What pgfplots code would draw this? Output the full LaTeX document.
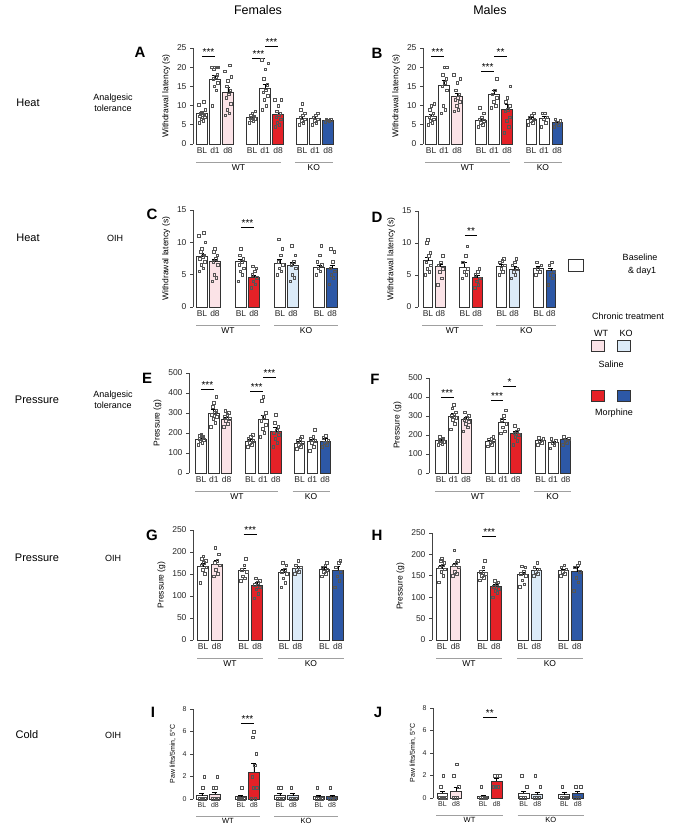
\documentclass[border=0pt]{standalone}
\usepackage{fontspec}
\setmainfont{Liberation Sans}
\usepackage{pgfplots}
\pgfplotsset{compat=1.18}
\definecolor{edge}{HTML}{333333}
\definecolor{pinkf}{HTML}{FBE3E7}
\definecolor{redf}{HTML}{E42127}
\definecolor{lbluef}{HTML}{DCEBF8}
\definecolor{bluef}{HTML}{2D58A6}
\definecolor{dotc}{HTML}{555555}
\definecolor{grpline}{HTML}{A0A0A0}
\definecolor{axc}{HTML}{444444}
\pgfplotsset{
  panel/.style={
    scale only axis, anchor=south west, clip=false,
    axis lines=left, axis line style={-, draw=axc, line width=0.9pt},
    x axis line style={draw=none},
    xtick style={draw=none},
    ytick style={draw=axc, line width=0.8pt},
    ytick align=outside, major tick length=3pt,
    tick label style={font=\fontsize{8.5}{9}\selectfont, text=black!85},
    xticklabel style={yshift=1.5pt},
    label style={font=\fontsize{8.5}{9}\selectfont},
    ymin=0,
    /pgf/number format/assume math mode=true,
  },
  small/.style={
    tick label style={font=\fontsize{7}{8}\selectfont, text=black!85},
    label style={font=\fontsize{7}{8}\selectfont},
  },
  bb/.style={ybar, bar width=0.8, bar shift=0pt, draw=edge, line width=0.9pt, fill=#1,
    error bars/y dir=plus, error bars/y explicit,
    error bars/error bar style={line width=0.8pt, black},
    error bars/error mark options={rotate=90, mark size=2.5pt, line width=0.8pt, black}},
  dots/.style={only marks, mark=square, mark size=1.3pt, mark options={draw=dotc, fill=none, line width=0.45pt}},
}
\newcommand{\bbar}[4]{\addplot[bb=#1] coordinates {(#2,#3) +- (0,#4)};}
\newcommand{\sig}[4]{\draw[line width=0.8pt, black] (axis cs:#1,#3) -- (axis cs:#2,#3) node[midway, above, inner sep=0.5pt, font=\fontsize{10}{9}\selectfont] {#4};}
\newcommand{\grp}[3]{\draw[grpline, line width=0.9pt] ([yshift=-18pt]axis cs:#1,0) -- ([yshift=-18pt]axis cs:#2,0) node[midway, below=1pt, inner sep=1pt, text=black, font=\fontsize{8.5}{9}\selectfont] {#3};}
\newcommand{\grps}[3]{\draw[grpline, line width=0.9pt] ([yshift=-17pt]axis cs:#1,0) -- ([yshift=-17pt]axis cs:#2,0) node[midway, below=1pt, inner sep=1pt, text=black, font=\fontsize{7.5}{8}\selectfont] {#3};}
\begin{document}
\begin{tikzpicture}
\path[use as bounding box] (0pt,0pt) rectangle (685pt,829pt);
% titles
\node[font=\fontsize{12.5}{14}\selectfont] at (258pt,819pt) {Females};
\node[font=\fontsize{12.5}{14}\selectfont] at (490pt,819pt) {Males};
% row labels
\begin{scope}[every node/.style={font=\fontsize{11}{13}\selectfont}]
\node at (28pt,726pt) {Heat};
\node at (28pt,591pt) {Heat};
\node at (37pt,429pt) {Pressure};
\node at (37pt,271pt) {Pressure};
\node at (27pt,94pt) {Cold};
\end{scope}
\begin{scope}[every node/.style={font=\fontsize{9}{11}\selectfont, align=center}]
\node at (113pt,726pt) {Analgesic\\tolerance};
\node at (115pt,591pt) {OIH};
\node at (113pt,429pt) {Analgesic\\tolerance};
\node at (113pt,271pt) {OIH};
\node at (113pt,94pt) {OIH};
\end{scope}
% panel letters
\begin{scope}[every node/.style={font=\fontsize{15}{17}\selectfont\bfseries}]
\node at (140pt,777pt) {A};
\node at (377pt,776pt) {B};
\node at (152pt,615pt) {C};
\node at (377pt,612pt) {D};
\node at (147pt,451pt) {E};
\node at (375pt,450pt) {F};
\node at (152pt,294pt) {G};
\node at (377pt,294pt) {H};
\node at (153pt,117pt) {I};
\node at (378pt,117pt) {J};
\end{scope}
% legend
\begin{scope}[every node/.style={font=\fontsize{9}{11}\selectfont}]
\draw[edge, line width=1pt] (568pt,557pt) rectangle (583pt,569pt);
\node at (640pt,572pt) {Baseline};
\node at (642pt,558pt) {\& day1};
\node at (628pt,513pt) {Chronic treatment};
\node at (601pt,496pt) {WT};
\node at (626pt,496pt) {KO};
\draw[edge, line width=1pt, fill=pinkf] (591pt,477pt) rectangle (604pt,488pt);
\draw[edge, line width=1pt, fill=lbluef] (617pt,477pt) rectangle (630pt,488pt);
\node at (611pt,465pt) {Saline};
\draw[edge, line width=1pt, fill=redf] (591pt,427pt) rectangle (604pt,438pt);
\draw[edge, line width=1pt, fill=bluef] (617pt,427pt) rectangle (630pt,438pt);
\node at (614pt,416pt) {Morphine};
\end{scope}

% ---------------- A ----------------
\begin{axis}[panel, at={(193pt,685pt)}, width=142.9pt, height=96pt,
  xmin=-0.69, xmax=10.3, ymax=25, ytick={0,5,...,25},
  xtick={0,1,2,3.85,4.85,5.85,7.7,8.7,9.7}, xticklabels={BL,d1,d8,BL,d1,d8,BL,d1,d8},
  ylabel={Withdrawal latency (s)}]
\bbar{white}{0}{7.9}{0.4}
\bbar{white}{1}{16.9}{0.9}
\bbar{pinkf}{2}{13.5}{1.3}
\bbar{white}{3.85}{6.9}{0.3}
\bbar{white}{4.85}{14.5}{1.1}
\bbar{redf}{5.85}{7.7}{0.6}
\bbar{white}{7.7}{6.6}{0.5}
\bbar{white}{8.7}{6.7}{0.4}
\bbar{bluef}{9.7}{6.1}{0.2}
\addplot[dots] coordinates {(-0.22,5.5)(0.1,6)(-0.05,6.5)(0.22,7)(-0.15,7.2)(0.05,7.5)(0.18,7.8)(-0.1,8)(0,8.3)(0.25,9)(-0.25,10.2)(0.13,11)
(0.78,10)(1.1,14)(0.95,15)(1.22,16)(0.85,17)(1.05,17.5)(1.18,18)(0.9,19.5)(1.0,20)(1.25,20)(0.75,20)(1.13,20)
(1.78,7.5)(2.1,8)(1.95,9)(2.22,10.5)(1.85,12)(2.05,13)(2.18,14)(1.9,15)(2,16.5)(2.25,17.5)(1.75,19)(2.13,20.5)
(3.63,5.5)(3.95,6)(3.8,6.3)(4.07,6.6)(3.7,6.8)(3.9,7)(4.03,7.2)(3.75,7.5)(3.85,8)(4.1,8.5)
(4.63,9)(4.95,10)(4.8,11.5)(5.07,12.5)(4.7,13.5)(4.9,14)(5.03,15.5)(4.75,17)(4.85,19.5)(5.1,21)(4.6,22)
(5.63,4.5)(5.95,5)(5.8,5.5)(6.07,6.5)(5.7,7)(5.9,7.5)(6.03,8)(5.75,8.5)(5.85,10)(6.1,11.5)(5.6,11.5)
(7.48,5)(7.8,5.5)(7.65,6)(7.92,6.5)(7.55,7)(7.75,7.5)(7.88,8)(7.6,9)(7.7,10.5)
(8.48,5)(8.8,5.5)(8.65,6)(8.92,6.5)(8.55,7)(8.75,7.5)(8.88,8)
(9.48,5.8)(9.8,6)(9.65,6.2)(9.92,6.3)(9.55,6.5)};
\sig{0}{1}{22.9}{***}
\sig{3.85}{4.85}{22.3}{***}
\sig{4.85}{5.85}{25.5}{***}
\grp{-0.45}{6.05}{WT}
\grp{7.15}{10.05}{KO}
\end{axis}

% ---------------- B ----------------
\begin{axis}[panel, at={(423pt,685pt)}, width=142pt, height=96pt,
  xmin=-0.62, xmax=10.3, ymax=25, ytick={0,5,...,25},
  xtick={0,1,2,3.85,4.85,5.85,7.7,8.7,9.7}, xticklabels={BL,d1,d8,BL,d1,d8,BL,d1,d8},
  ylabel={Withdrawal latency (s)}]
\bbar{white}{0}{7.3}{0.5}
\bbar{white}{1}{15.3}{1.2}
\bbar{pinkf}{2}{12.3}{1.0}
\bbar{white}{3.85}{6.2}{0.4}
\bbar{white}{4.85}{13.0}{0.9}
\bbar{redf}{5.85}{9.1}{1.2}
\bbar{white}{7.7}{6.5}{0.4}
\bbar{white}{8.7}{6.7}{0.6}
\bbar{bluef}{9.7}{5.5}{0.4}
\addplot[dots] coordinates {(-0.22,5)(0.1,5.5)(-0.05,6)(0.22,6.5)(-0.15,7)(0.05,7.5)(0.18,8)(-0.1,9)(0,10)(0.25,10.5)
(0.78,8)(1.1,9)(0.95,10)(1.22,14)(0.85,15)(1.05,16)(1.18,17)(0.9,18)(1.0,20)(1.2,20)
(1.78,8.5)(2.1,9)(1.95,10)(2.22,11)(1.85,11.5)(2.05,12)(2.18,13)(1.9,14)(2,16)(2.25,17)(1.75,18)
(3.63,4.5)(3.95,5)(3.8,5.5)(4.07,6)(3.7,6.5)(3.9,7)(4.03,8)(3.75,9.5)
(4.63,9.5)(4.95,10)(4.8,11)(5.07,12)(4.7,13)(4.9,14)(5.03,17)
(5.63,3)(5.95,4.5)(5.8,6)(6.07,7)(5.7,8.5)(5.9,9)(6.03,10)(5.75,11)(5.85,12)(6.1,15)
(7.48,5)(7.8,5.5)(7.65,6)(7.92,6.5)(7.55,7)(7.75,7.5)(7.88,8)
(8.48,4.5)(8.8,5.5)(8.65,6.5)(8.92,7)(8.55,8)(8.75,8)
(9.48,4.5)(9.8,5)(9.65,5.5)(9.92,6)(9.55,6.5)};
\sig{0}{1}{22.9}{***}
\sig{3.85}{4.85}{18.8}{***}
\sig{4.85}{5.85}{22.9}{**}
\grp{-0.45}{6.05}{WT}
\grp{7.15}{10.05}{KO}
\end{axis}

% ---------------- C ----------------
\begin{axis}[panel, at={(193pt,522pt)}, width=146.8pt, height=97pt,
  xmin=-0.69, xmax=10.6, ymax=15, ytick={0,5,10,15},
  xtick={0,1,3,4,6,7,9,10}, xticklabels={BL,d8,BL,d8,BL,d8,BL,d8},
  ylabel={Withdrawal latency (s)}]
\bbar{white}{0}{7.8}{0.5}
\bbar{pinkf}{1}{7.0}{0.4}
\bbar{white}{3}{7.0}{0.4}
\bbar{redf}{4}{4.6}{0.3}
\bbar{white}{6}{6.7}{0.7}
\bbar{lbluef}{7}{6.5}{0.4}
\bbar{white}{9}{6.1}{0.4}
\bbar{bluef}{10}{6.0}{0.5}
\addplot[dots] coordinates {(-0.22,5.5)(0.1,6)(-0.05,6.5)(0.22,7)(-0.15,7.5)(0.05,7.8)(0.18,8)(-0.1,8.5)(0,9)(0.25,10)(-0.25,11)(0.13,11.5)
(0.78,4)(1.1,4.5)(0.95,5)(1.22,6.5)(0.85,7)(1.05,7.5)(1.18,8)(0.9,8.5)(1.0,9)
(2.78,4)(3.1,5)(2.95,5.5)(3.22,6)(2.85,6.5)(3.05,7)(3.18,7.5)(2.9,8)(3,9)
(3.78,3)(4.1,3.5)(3.95,4)(4.22,4.5)(3.85,5)(4.05,5.5)(4.18,6)(3.9,6.3)
(5.78,5)(6.1,5.5)(5.95,6)(6.22,6.5)(5.85,7)(6.05,8)(6.18,9)(5.9,10.5)
(6.78,4)(7.1,4.5)(6.95,5)(7.22,6)(6.85,6.5)(7.05,7)(7.18,8)(6.9,9.5)
(8.78,5)(9.1,5.5)(8.95,6)(9.22,6.5)(8.85,7)(9.05,8)(9.18,9.5)
(9.78,3.5)(10.1,4.5)(9.95,5)(10.22,5.5)(9.85,6)(10.05,7)(10.18,8.5)(9.9,9)};
\sig{3}{4}{12.3}{***}
\grp{-0.45}{4.45}{WT}
\grp{5.55}{10.45}{KO}
\end{axis}

% ---------------- D ----------------
\begin{axis}[panel, at={(418pt,522pt)}, width=140.3pt, height=96pt,
  xmin=-0.81, xmax=10.6, ymax=15, ytick={0,5,10,15},
  xtick={0,1,3,4,6,7,9,10}, xticklabels={BL,d8,BL,d8,BL,d8,BL,d8},
  ylabel={Withdrawal latency (s)}]
\bbar{white}{0}{7.2}{0.6}
\bbar{pinkf}{1}{6.3}{0.4}
\bbar{white}{3}{6.2}{0.7}
\bbar{redf}{4}{4.6}{0.4}
\bbar{white}{6}{6.4}{0.3}
\bbar{lbluef}{7}{5.9}{0.4}
\bbar{white}{9}{6.0}{0.3}
\bbar{bluef}{10}{5.7}{0.4}
\addplot[dots] coordinates {(-0.22,5)(0.1,5.5)(-0.05,6)(0.22,6.5)(-0.15,7)(0.05,8)(0.18,8.5)(-0.1,10)(0,10.5)
(0.78,3.5)(1.1,4.5)(0.95,5.5)(1.22,6)(0.85,6.5)(1.05,7)(1.18,8)
(2.78,4.5)(3.1,5)(2.95,5.5)(3.22,6)(2.85,7)(3.05,8)(3.18,9.5)
(3.78,3)(4.1,3.5)(3.95,4)(4.22,4.5)(3.85,5)(4.05,5.5)(4.18,6)
(5.78,5)(6.1,5.5)(5.95,6)(6.22,6.5)(5.85,7)(6.05,7.2)(6.18,7.5)
(6.78,4.5)(7.1,5)(6.95,5.5)(7.22,6)(6.85,6.5)(7.05,7)(7.18,7.5)
(8.78,5)(9.1,5.5)(8.95,6)(9.22,6.5)(8.85,7)
(9.78,3.5)(10.1,4.5)(9.95,5)(10.22,5.5)(9.85,6.5)(10.05,7)};
\sig{3}{4}{11.2}{**}
\grp{-0.45}{4.45}{WT}
\grp{5.55}{10.45}{KO}
\end{axis}

% ---------------- E ----------------
\begin{axis}[panel, at={(189pt,356pt)}, width=143.9pt, height=100pt,
  xmin=-0.94, xmax=10.3, ymax=500, ytick={0,100,...,500},
  xtick={0,1,2,3.85,4.85,5.85,7.7,8.7,9.7}, xticklabels={BL,d1,d8,BL,d1,d8,BL,d1,d8},
  ylabel={Pressure (g)}]
\bbar{white}{0}{170}{8}
\bbar{white}{1}{300}{20}
\bbar{pinkf}{2}{270}{10}
\bbar{white}{3.85}{160}{8}
\bbar{white}{4.85}{270}{20}
\bbar{redf}{5.85}{207}{20}
\bbar{white}{7.7}{150}{8}
\bbar{white}{8.7}{160}{10}
\bbar{bluef}{9.7}{160}{15}
\addplot[dots] coordinates {(-0.22,140)(0.1,150)(-0.05,160)(0.22,165)(-0.15,170)(0.05,175)(0.18,180)(-0.1,185)(0,190)
(0.78,230)(1.1,250)(0.95,270)(1.22,280)(0.85,290)(1.05,300)(1.18,310)(0.9,330)(1.0,350)(1.2,380)
(1.78,230)(2.1,245)(1.95,260)(2.22,270)(1.85,280)(2.05,290)(2.18,300)(1.9,310)
(3.63,130)(3.95,140)(3.8,150)(4.07,160)(3.7,170)(3.9,180)(4.03,190)
(4.63,180)(4.95,200)(4.8,220)(5.07,240)(4.7,260)(4.9,280)(5.03,300)(4.75,360)(4.85,380)
(5.63,130)(5.95,150)(5.8,170)(6.07,190)(5.7,200)(5.9,210)(6.03,230)(5.75,250)(5.85,290)
(7.48,120)(7.8,130)(7.65,140)(7.92,150)(7.55,160)(7.75,170)(7.88,180)
(8.48,110)(8.8,130)(8.65,150)(8.92,160)(8.55,170)(8.75,180)(8.88,215)
(9.48,130)(9.8,140)(9.65,150)(9.92,160)(9.55,175)(9.75,185)};
\sig{0}{1}{420}{***}
\sig{3.85}{4.85}{407}{***}
\sig{4.85}{5.85}{477}{***}
\grp{-0.45}{6.05}{WT}
\grp{7.15}{10.05}{KO}
\end{axis}

% ---------------- F ----------------
\begin{axis}[panel, at={(429pt,356pt)}, width=144.3pt, height=95pt,
  xmin=-0.95, xmax=10.5, ymax=500, ytick={0,100,...,500},
  xtick={0,1,2,3.95,4.95,5.95,7.9,8.9,9.9}, xticklabels={BL,d1,d8,BL,d1,d8,BL,d1,d8},
  ylabel={Pressure (g)}]
\bbar{white}{0}{170}{8}
\bbar{white}{1}{300}{12}
\bbar{pinkf}{2}{280}{12}
\bbar{white}{3.95}{165}{8}
\bbar{white}{4.95}{265}{15}
\bbar{redf}{5.95}{210}{8}
\bbar{white}{7.9}{170}{6}
\bbar{white}{8.9}{160}{8}
\bbar{bluef}{9.9}{175}{8}
\addplot[dots] coordinates {(-0.22,150)(0.1,155)(-0.05,160)(0.22,165)(-0.15,170)(0.05,175)(0.18,180)(-0.1,190)
(0.78,230)(1.1,260)(0.95,280)(1.22,290)(0.85,300)(1.05,310)(1.18,320)(0.9,340)(1.0,360)
(1.78,220)(2.1,240)(1.95,260)(2.22,270)(1.85,280)(2.05,290)(2.18,300)(1.9,320)
(3.73,140)(4.05,150)(3.9,160)(4.17,170)(3.8,175)(4.0,180)(4.13,190)
(4.73,210)(5.05,220)(4.9,240)(5.17,260)(4.8,280)(5.0,300)(5.13,330)
(5.73,150)(6.05,170)(5.9,190)(6.17,200)(5.8,210)(6.0,220)(6.13,230)(5.85,250)
(7.68,150)(8.0,160)(7.85,170)(8.12,180)(7.75,185)
(8.68,130)(9.0,150)(8.85,160)(9.12,170)(8.75,180)
(9.68,150)(10.0,160)(9.85,170)(10.12,180)(9.75,190)};
\sig{0}{1}{396}{***}
\sig{3.95}{4.95}{384}{***}
\sig{4.95}{5.95}{454}{*}
\grp{-0.45}{6.3}{WT}
\grp{7.4}{10.3}{KO}
\end{axis}

% ---------------- G ----------------
\begin{axis}[panel, at={(193pt,189pt)}, width=153pt, height=110pt,
  xmin=-0.75, xmax=10.6, ymax=250, ytick={0,50,...,250},
  xtick={0,1,3,4,6,7,9,10}, xticklabels={BL,d8,BL,d8,BL,d8,BL,d8},
  ylabel={Pressure (g)}]
\bbar{white}{0}{167}{8}
\bbar{pinkf}{1}{172}{8}
\bbar{white}{3}{157}{6}
\bbar{redf}{4}{125}{7}
\bbar{white}{6}{153}{7}
\bbar{lbluef}{7}{162}{5}
\bbar{white}{9}{160}{4}
\bbar{bluef}{10}{158}{10}
\addplot[dots] coordinates {(-0.22,130)(0.1,150)(-0.05,160)(0.22,165)(-0.15,170)(0.05,175)(0.18,180)(-0.1,185)(0,190)
(0.78,145)(1.1,150)(0.95,160)(1.22,170)(0.85,175)(1.05,180)(1.18,195)(0.9,210)
(2.78,135)(3.1,140)(2.95,145)(3.22,155)(2.85,160)(3.05,170)(3.18,185)
(3.78,95)(4.1,105)(3.95,115)(4.22,120)(3.85,125)(4.05,130)(4.18,135)(3.9,140)
(5.78,120)(6.1,130)(5.95,140)(6.22,150)(5.85,155)(6.05,160)(6.18,170)(5.9,175)
(6.78,150)(7.1,155)(6.95,160)(7.22,165)(6.85,170)(7.05,180)
(8.78,145)(9.1,150)(8.95,155)(9.22,160)(8.85,165)(9.05,170)(9.18,175)
(9.78,120)(10.1,135)(9.95,145)(10.22,155)(9.85,165)(10.05,175)(10.18,180)};
\sig{3}{4}{239}{***}
\grp{-0.45}{4.45}{WT}
\grp{5.55}{10.45}{KO}
\end{axis}

% ---------------- H ----------------
\begin{axis}[panel, at={(432pt,189pt)}, width=153pt, height=107pt,
  xmin=-0.74, xmax=10.6, ymax=250, ytick={0,50,...,250},
  xtick={0,1,3,4,6,7,9,10}, xticklabels={BL,d8,BL,d8,BL,d8,BL,d8},
  ylabel={Pressure (g)}]
\bbar{white}{0}{167}{8}
\bbar{pinkf}{1}{173}{7}
\bbar{white}{3}{157}{6}
\bbar{redf}{4}{125}{6}
\bbar{white}{6}{153}{6}
\bbar{lbluef}{7}{162}{5}
\bbar{white}{9}{162}{4}
\bbar{bluef}{10}{159}{10}
\addplot[dots] coordinates {(-0.22,135)(0.1,150)(-0.05,160)(0.22,165)(-0.15,170)(0.05,175)(0.18,180)(-0.1,185)(0,190)
(0.78,150)(1.1,155)(0.95,160)(1.22,170)(0.85,175)(1.05,180)(1.18,185)(0.9,210)
(2.78,140)(3.1,145)(2.95,150)(3.22,155)(2.85,160)(3.05,170)(3.18,185)
(3.78,100)(4.1,110)(3.95,115)(4.22,120)(3.85,125)(4.05,130)(4.18,135)(3.9,138)
(5.78,125)(6.1,130)(5.95,140)(6.22,150)(5.85,155)(6.05,160)(6.18,170)(5.9,172)
(6.78,150)(7.1,155)(6.95,160)(7.22,165)(6.85,170)(7.05,180)
(8.78,150)(9.1,155)(8.95,160)(9.22,165)(8.85,170)(9.05,175)
(9.78,115)(10.1,135)(9.95,145)(10.22,160)(9.85,170)(10.05,175)(10.18,180)};
\sig{3}{4}{241}{***}
\grp{-0.45}{4.45}{WT}
\grp{5.55}{10.45}{KO}
\end{axis}

% ---------------- I ----------------
\begin{axis}[panel, small, at={(193pt,30pt)}, width=146.8pt, height=90pt,
  xmin=-0.69, xmax=10.6, ymax=8, ytick={0,2,...,8},
  xtick={0,1,3,4,6,7,9,10}, xticklabels={BL,d8,BL,d8,BL,d8,BL,d8},
  ylabel={Paw lifts/5min, 5°C}]
\bbar{white}{0}{0.3}{0.2}
\bbar{pinkf}{1}{0.4}{0.2}
\bbar{white}{3}{0.2}{0.1}
\bbar{redf}{4}{2.4}{0.8}
\bbar{white}{6}{0.3}{0.2}
\bbar{lbluef}{7}{0.3}{0.2}
\bbar{white}{9}{0.2}{0.1}
\bbar{bluef}{10}{0.2}{0.1}
\addplot[dots] coordinates {(-0.22,0)(0.1,0)(-0.05,0)(0.22,0)(-0.15,0)(0.05,1)(0.18,2)
(0.78,0)(1.1,0)(0.95,0)(1.22,0)(0.85,1)(1.05,1)(1.18,2)
(2.78,0)(3.1,0)(2.95,0)(3.22,0)(2.85,0)(3.05,1)
(3.78,0)(4.1,0)(3.95,1)(4.22,1)(3.85,2)(4.05,3)(4.18,4)(3.9,5.5)(4,6)
(5.78,0)(6.1,0)(5.95,0)(6.22,0)(5.85,1)(6.05,1)
(6.78,0)(7.1,0)(6.95,0)(7.22,0)(6.85,1)
(8.78,0)(9.1,0)(8.95,0)(9.22,0)(8.85,1)
(9.78,0)(10.1,0)(9.95,0)(10.22,0)(9.85,1)};
\sig{3}{4}{6.7}{***}
\grps{-0.45}{4.45}{WT}
\grps{5.55}{10.45}{KO}
\end{axis}

% ---------------- J ----------------
\begin{axis}[panel, small, at={(433pt,31pt)}, width=153pt, height=90pt,
  xmin=-0.7, xmax=10.6, ymax=8, ytick={0,2,...,8},
  xtick={0,1,3,4,6,7,9,10}, xticklabels={BL,d8,BL,d8,BL,d8,BL,d8},
  ylabel={Paw lifts/5min, 5°C}]
\bbar{white}{0}{0.4}{0.2}
\bbar{pinkf}{1}{0.6}{0.3}
\bbar{white}{3}{0.1}{0.1}
\bbar{redf}{4}{1.5}{0.2}
\bbar{white}{6}{0.4}{0.2}
\bbar{lbluef}{7}{0.3}{0.2}
\bbar{white}{9}{0.3}{0.2}
\bbar{bluef}{10}{0.4}{0.2}
\addplot[dots] coordinates {(-0.22,0)(0.1,0)(-0.05,0)(0.22,0)(-0.15,1)(0.05,2)
(0.78,0)(1.1,0)(0.95,0)(1.22,1)(0.85,2)(1.05,3)
(2.78,0)(3.1,0)(2.95,0)(3.22,0)(2.85,1)
(3.78,1)(4.1,1)(3.95,1)(4.22,2)(3.85,2)(4.05,2)
(5.78,0)(6.1,0)(5.95,0)(6.22,1)(5.85,2)
(6.78,0)(7.1,0)(6.95,0)(7.22,1)(6.85,2)
(8.78,0)(9.1,0)(8.95,0)(9.22,0)(8.85,1)
(9.78,0)(10.1,0)(9.95,0)(10.22,1)(9.85,1)};
\sig{3}{4}{7.2}{**}
\grps{-0.45}{4.45}{WT}
\grps{5.55}{10.45}{KO}
\end{axis}
\end{tikzpicture}
\end{document}
